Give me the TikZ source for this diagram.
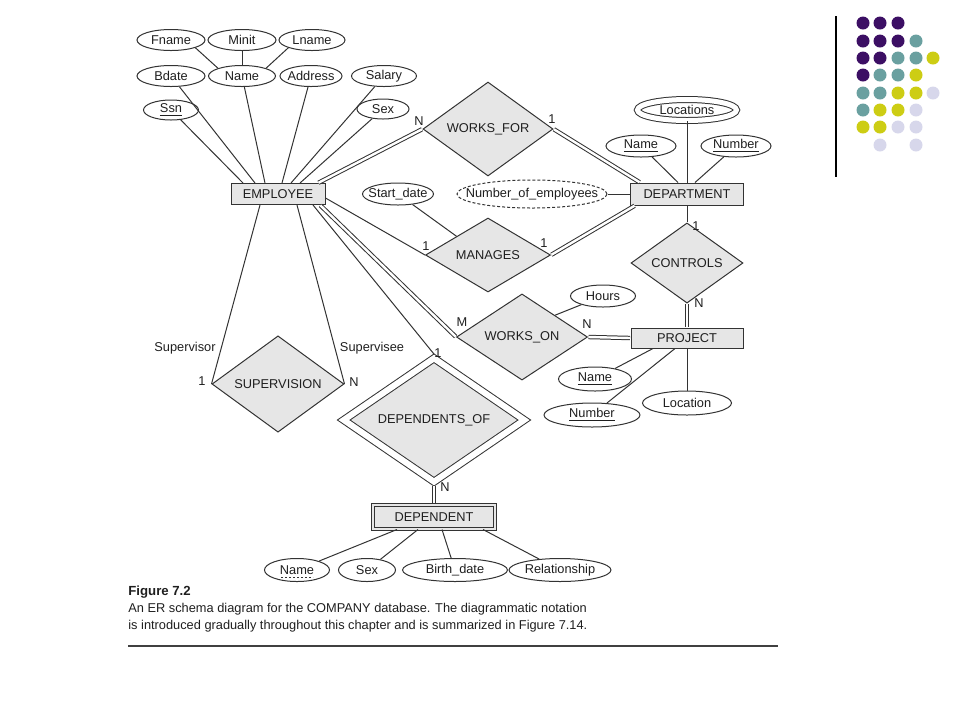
\documentclass[tikz,border=0pt]{standalone}
\usepackage{fontspec}
\setmainfont{Liberation Sans}
\usetikzlibrary{shapes.geometric}

\definecolor{entfill}{HTML}{E6E6E6}
\definecolor{inkgray}{HTML}{333333}
\definecolor{dotpurple}{HTML}{3C0F64}
\definecolor{dotteal}{HTML}{6AA0A0}
\definecolor{dotyellow}{HTML}{CDCD14}
\definecolor{dotlilac}{HTML}{D7D7EB}

\begin{document}
\begin{tikzpicture}[
x=0.5pt, y=-0.5pt,
font=\fontsize{6.4}{7.6}\selectfont,
every node/.style={text=black!88},
ln/.style={draw=inkgray, line width=0.5pt},
entity/.style={ln, rectangle, fill=entfill, minimum height=10.5pt, inner sep=0pt},
weakent/.style={entity, double=entfill, double distance=1pt},
rel/.style={ln, diamond, fill=entfill, inner sep=0pt},
weakrel/.style={rel, double=white, double distance=3pt},
attr/.style={ln, ellipse, fill=white, inner ysep=0pt, inner xsep=-4pt, minimum height=10.5pt},
multiattr/.style={attr, double=white, double distance=2.5pt},
derived/.style={attr, dash pattern=on 1.5pt off 1pt},
link/.style={draw=inkgray, line width=0.5pt},
total/.style={link, double=white, double distance=1.2pt, shorten <=0.25pt, shorten >=0.25pt},
card/.style={inner sep=0pt}
]
\useasboundingbox (0,0) rectangle (960,720);

% entity types
\node[entity, minimum width=47pt] (emp) at (278,194) {EMPLOYEE};
\node[entity, minimum width=56.5pt, minimum height=11pt] (dept) at (687,194) {DEPARTMENT};
\node[entity, minimum width=56pt, minimum height=10pt] (proj) at (687,338) {PROJECT};
\node[weakent, minimum width=61pt, minimum height=12pt] (dep) at (434,517) {DEPENDENT};

% relationship types
\node[rel, minimum width=65pt, minimum height=39pt] (worksfor) at (488,129) {WORKS\_FOR};
\node[rel, minimum width=62.5pt, minimum height=37pt] (manages) at (488,255) {MANAGES};
\node[rel, minimum width=56pt, minimum height=34pt] (controls) at (687,263) {CONTROLS};
\node[rel, minimum width=65.5pt, minimum height=40pt] (workson) at (522,337) {WORKS\_ON};
\node[rel, minimum width=66pt, minimum height=39.5pt] (superv) at (278,384) {SUPERVISION};
\node[weakrel, minimum width=90.5pt, minimum height=53.5pt] (depof) at (434,420) {DEPENDENTS\_OF};

% employee attributes
\node[attr, minimum width=34pt] (fname) at (171,40) {Fname};
\node[attr, minimum width=34pt] (minit) at (242,40) {Minit};
\node[attr, minimum width=33pt] (lname) at (312,40) {Lname};
\node[attr, minimum width=34pt] (bdate) at (171,76) {Bdate};
\node[attr, minimum width=33.5pt] (ename) at (242,76) {Name};
\node[attr, minimum width=31pt] (addr) at (311,76) {Address};
\node[attr, minimum width=32.5pt] (salary) at (384,76) {Salary};
\node[attr, minimum width=27.5pt, minimum height=10pt] (ssn) at (171,110) {\underline{Ssn}};
\node[attr, minimum width=26pt, minimum height=10pt] (esex) at (383,109) {Sex};

% department attributes
\node[multiattr, minimum width=49.5pt] (locs) at (687,110) {Locations};
\node[attr, minimum width=35pt, minimum height=11pt] (dname) at (641,146) {\underline{Name}};
\node[attr, minimum width=35pt, minimum height=11pt] (dnum) at (736,146) {\underline{Number}};
\node[derived, inner xsep=-8pt, minimum width=75pt, minimum height=14pt] (noe) at (532,194) {Number\_of\_employees};
\node[attr, minimum width=35.5pt, minimum height=11pt] (sdate) at (398,194) {Start\_date};

% project attributes
\node[attr, minimum width=32.5pt, minimum height=11pt] (hours) at (603,296) {Hours};
\node[attr, minimum width=36.5pt, minimum height=12pt] (pname) at (595,379) {\underline{Name}};
\node[attr, minimum width=48pt, minimum height=12pt] (pnum) at (592,415) {\underline{Number}};
\node[attr, minimum width=44.5pt, minimum height=12pt] (ploc) at (687,403) {Location};

% dependent attributes
\node[attr, minimum width=32.5pt, minimum height=11.5pt] (depname) at (297,570) {Name};
\node[attr, minimum width=28.5pt, minimum height=11.5pt] (depsex) at (367,570) {Sex};
\node[attr, minimum width=52.5pt, minimum height=11.5pt] (bdate2) at (455,570) {Birth\_date};
\node[attr, minimum width=51pt, minimum height=11.5pt] (relship) at (560,570) {Relationship};
\draw[inkgray, line width=0.4pt, dash pattern=on 1.2pt off 0.8pt]
  ([xshift=-8pt,yshift=-3.5pt]depname.center) -- ([xshift=8pt,yshift=-3.5pt]depname.center);

% attribute links
\draw[link] (fname.south east) -- (ename.north west);
\draw[link] (minit) -- (ename);
\draw[link] (lname.south west) -- (ename.north east);
\draw[link] (ssn) -- ([xshift=-17.5pt]emp.north);
\draw[link] (bdate) -- ([xshift=-11.5pt]emp.north);
\draw[link] (ename) -- ([xshift=-6.5pt]emp.north);
\draw[link] (addr) -- ([xshift=2pt]emp.north);
\draw[link] (salary) -- ([xshift=6.5pt]emp.north);
\draw[link] (esex) -- ([xshift=11pt]emp.north);
\draw[link] (locs) -- (dept);
\draw[link] (dname) -- ([xshift=-4.5pt]dept.north);
\draw[link] (dnum) -- ([xshift=4pt]dept.north);
\draw[link] (noe) -- (dept);
\draw[link] (sdate) -- (manages.north west);
\draw[link] (hours) -- (workson.north east);
\draw[link] (pname) -- ([xshift=-17pt]proj.south);
\draw[link] (pnum) -- ([xshift=-6pt]proj.south);
\draw[link] (ploc) -- (proj);
\draw[link] ([xshift=-18.5pt]dep.south) -- (depname);
\draw[link] ([xshift=-8pt]dep.south) -- (depsex);
\draw[link] ([xshift=4pt]dep.south) -- (bdate2);
\draw[link] ([xshift=24.5pt]dep.south) -- (relship);

% relationship links
\draw[total] ([xshift=20pt]emp.north) -- (worksfor.west);
\draw[total] (worksfor.east) -- ([xshift=-23.5pt]dept.north);
\draw[link] ([yshift=-2pt]emp.east) -- (manages.west);
\draw[total] (manages.east) -- ([xshift=-26pt]dept.south);
\draw[link] (dept) -- (controls);
\draw[total] (controls) -- (proj);
\draw[total] ([xshift=21pt]emp.south) -- (workson.west);
\draw[total] (workson.east) -- (proj.west);
\draw[link] ([xshift=-9pt]emp.south) -- (superv.west);
\draw[link] ([xshift=9.5pt]emp.south) -- (superv.east);
\draw[link] ([xshift=17.5pt]emp.south) -- ([yshift=1.75pt]depof.north);
\draw[total] ([yshift=-1.75pt]depof.south) -- ([yshift=0.75pt]dep.north);

% cardinalities and roles
\node[card] (c1) at (419,121) {N};
\node[card] (c2) at (552,119) {1};
\node[card] (c3) at (426,246) {1};
\node[card] (c4) at (544,243) {1};
\node[card] (c5) at (696,226) {1};
\node[card] (c6) at (699,303) {N};
\node[card] (c7) at (462,322) {M};
\node[card] (c8) at (587,324) {N};
\node[card] (c9) at (202,381) {1};
\node[card] (c10) at (354,382) {N};
\node[card] (c11) at (438,353) {1};
\node[card] (c12) at (445,487) {N};
\node[card] (supor) at (185,348) {Supervisor};
\node[card] (supee) at (372,348) {Supervisee};

% caption
\node[anchor=north west, align=left, inner sep=0pt, font=\fontsize{6.4}{8.5}\selectfont] (caption) at (128,586)
  {{\fontsize{6.6}{8.5}\selectfont\textbf{Figure 7.2}}\\
   An ER schema diagram for the COMPANY database. The diagrammatic notation\\
   is introduced gradually throughout this chapter and is summarized in Figure 7.14.};
\draw[black!75, line width=0.6pt] (128,646) -- (778,646);

% corner ornament
\draw[black, line width=0.8pt] (836,16) -- (836,177);
\foreach \dx/\dy/\dc in {863/23/dotpurple, 880/23/dotpurple, 898/23/dotpurple,
  863/41/dotpurple, 880/41/dotpurple, 898/41/dotpurple, 916/41/dotteal,
  863/58/dotpurple, 880/58/dotpurple, 898/58/dotteal, 916/58/dotteal, 933/58/dotyellow,
  863/75/dotpurple, 880/75/dotteal, 898/75/dotteal, 916/75/dotyellow,
  863/93/dotteal, 880/93/dotteal, 898/93/dotyellow, 916/93/dotyellow, 933/93/dotlilac,
  863/110/dotteal, 880/110/dotyellow, 898/110/dotyellow, 916/110/dotlilac,
  863/127/dotyellow, 880/127/dotyellow, 898/127/dotlilac, 916/127/dotlilac,
  880/145/dotlilac, 916/145/dotlilac}
  \fill[\dc] (\dx,\dy) circle[radius=3.25pt];
\end{tikzpicture}
\end{document}
